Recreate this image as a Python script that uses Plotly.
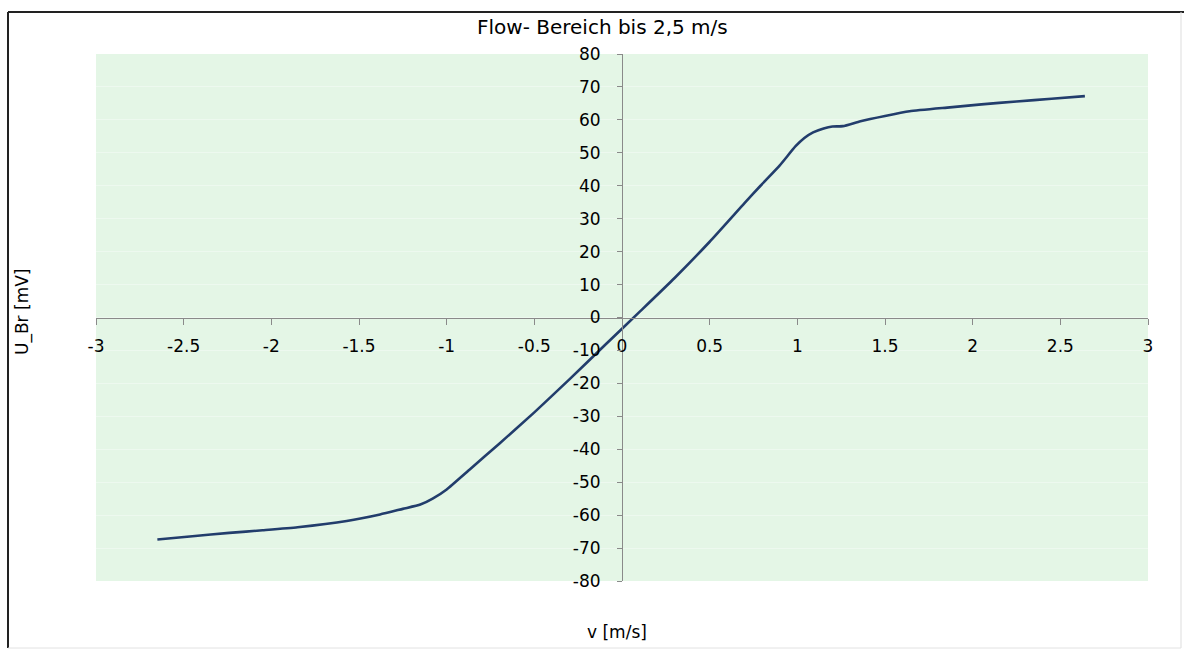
import plotly.graph_objects as go

# data
v_ms = [-2.65, -2.45, -2.24, -2.05, -1.85, -1.57, -1.38, -1.25, -1.15, -1.08, -1.0, -0.87,
        -0.7, -0.5, -0.3, -0.1, 0.1, 0.3, 0.5, 0.7, 0.79, 0.9, 0.99, 1.04, 1.09, 1.15,
        1.2, 1.26, 1.36, 1.5, 1.64, 1.87, 2.05, 2.25, 2.45, 2.64]
u_br_mv = [-67.4, -66.4, -65.4, -64.6, -63.7, -61.8, -59.8, -58.1, -56.8, -55.0, -52.2, -46.2,
           -38.3, -28.8, -18.8, -8.5, 1.7, 12.0, 23.0, 34.8, 40.0, 46.2, 52.0, 54.5, 56.2, 57.4,
           58.0, 58.1, 59.6, 61.2, 62.6, 63.8, 64.7, 65.6, 66.4, 67.2]

x_ticks = [-3, -2.5, -2, -1.5, -1, -0.5, 0, 0.5, 1, 1.5, 2, 2.5, 3]
x_tick_text = ["-3", "-2.5", "-2", "-1.5", "-1", "-0.5", "0", "0.5", "1", "1.5", "2", "2.5", "3"]
y_ticks = [-80, -70, -60, -50, -40, -30, -20, -10, 0, 10, 20, 30, 40, 50, 60, 70, 80]
y_tick_text = ["-80", "-70", "-60", "-50", "-40", "-30", "-20", "-10", "0",
               "10", "20", "30", "40", "50", "60", "70", "80"]

title_text = "Flow- Bereich bis 2,5 m/s"
x_title = "v [m/s]"
y_title = "U_Br [mV]"

FONT = "DejaVu Sans, Arial, sans-serif"
FS = 17

# plot-area pixel box
L, R, T, B = 96, 1148, 54, 581
def px(xp):
    return (xp - L) / (R - L)
def py(yp):
    return (B - yp) / (B - T)

fig = go.Figure()
fig.add_trace(go.Scatter(x=v_ms, y=u_br_mv, mode="lines",
                         line=dict(color="#223d6c", width=2.6, shape="spline", smoothing=0.5),
                         showlegend=False, hoverinfo="x+y"))

fig.update_layout(
    width=1184, height=650,
    margin=dict(l=L, r=1184 - R, t=T, b=650 - B),
    paper_bgcolor="white",
    plot_bgcolor="#e4f6e6",
    font=dict(family=FONT, size=FS, color="black"),
    showlegend=False,
    xaxis=dict(range=[-3, 3], tickvals=x_ticks, ticktext=x_tick_text,
               anchor="free", position=0.5, showline=True, linecolor="#8a8a8a", linewidth=1,
               ticks="outside", ticklen=6, tickcolor="#8a8a8a",
               showgrid=False, zeroline=False, ticklabelstandoff=7,
               tickfont=dict(family=FONT, size=FS, color="black")),
    yaxis=dict(range=[-80, 80], tickvals=y_ticks, ticktext=y_tick_text,
               anchor="free", position=0.5, showline=True, linecolor="#8a8a8a", linewidth=1,
               ticks="outside", ticklen=5, tickcolor="#8a8a8a",
               showgrid=True, gridcolor="rgba(255,255,255,0.35)", gridwidth=1,
               zeroline=False, ticklabelstandoff=13,
               tickfont=dict(family=FONT, size=FS, color="black")),
    annotations=[
        dict(text=title_text, x=px(602), y=py(27), xref="paper", yref="paper", showarrow=False,
             xanchor="center", yanchor="middle", font=dict(family=FONT, size=20, color="black")),
        dict(text=x_title, x=px(617), y=py(632), xref="paper", yref="paper", showarrow=False,
             xanchor="center", yanchor="middle", font=dict(family=FONT, size=FS, color="black")),
        dict(text=y_title, x=px(22), y=py(312), xref="paper", yref="paper", showarrow=False,
             xanchor="center", yanchor="middle", textangle=-90,
             font=dict(family=FONT, size=FS, color="black")),
    ],
)

# chart frame
fig.add_shape(type="line", xref="paper", yref="paper", x0=px(8), x1=px(8), y0=py(12), y1=py(648),
              line=dict(color="#222222", width=2))
fig.add_shape(type="line", xref="paper", yref="paper", x0=px(8), x1=px(1184), y0=py(12), y1=py(12),
              line=dict(color="#222222", width=2))
fig.add_shape(type="line", xref="paper", yref="paper", x0=px(1181), x1=px(1181), y0=py(12), y1=py(648),
              line=dict(color="#dddddd", width=1))
fig.add_shape(type="line", xref="paper", yref="paper", x0=px(8), x1=px(1181), y0=py(648), y1=py(648),
              line=dict(color="#e2e2e2", width=1))

fig.write_html("out.html", config={"displayModeBar": False},
               post_script="document.body.style.margin='0';")
